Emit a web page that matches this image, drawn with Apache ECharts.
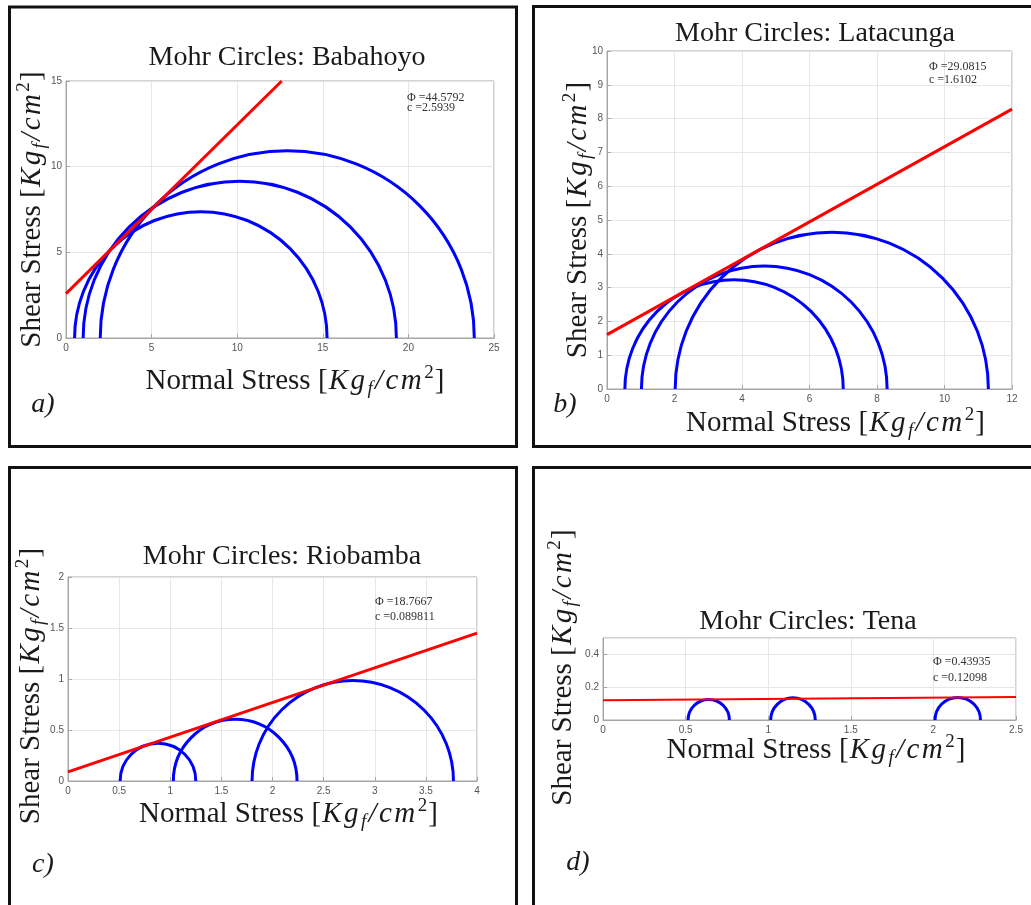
<!DOCTYPE html>
<html>
<head>
<meta charset="utf-8">
<title>Mohr Circles</title>
<script src="https://cdn.jsdelivr.net/npm/echarts@6/dist/echarts.min.js"></script>
<style>
  html, body { margin: 0; padding: 0; background: #fff; }
  #chart { width: 1031px; height: 905px; }
</style>
</head>
<body>
<div id="chart"></div>
<script>
// sigma3 / sigma1 of each triaxial test [Kg_f/cm^2]
const babahoyoSigma3 = [0.5, 1.0, 2.0];
const babahoyoSigma1 = [15.25, 19.3, 23.85];
const babahoyoEnvelope = [[0, 2.59], [12.6, 15]];

const latacungaSigma3 = [0.53, 1.02, 2.02];
const latacungaSigma1 = [7.0, 8.3, 11.3];
const latacungaEnvelope = [[0, 1.61], [12, 8.28]];

const riobambaSigma3 = [0.51, 1.03, 1.8];
const riobambaSigma1 = [1.25, 2.24, 3.77];
const riobambaEnvelope = [[0, 0.09], [4, 1.449]];

const tenaSigma3 = [0.515, 1.015, 2.01];
const tenaSigma1 = [0.765, 1.285, 2.285];
const tenaEnvelope = [[0, 0.121], [2.5, 0.14]];

const sites = ['Babahoyo', 'Latacunga', 'Riobamba', 'Tena'];
const phiValues = ['44.5792', '29.0815', '18.7667', '0.43935'];
const cohesionValues = ['2.5939', '1.6102', '0.089811', '0.12098'];
const panelLetters = ['a)', 'b)', 'c)', 'd)'];

const xMax = [25, 12, 4, 2.5];
const xStep = [5, 2, 0.5, 0.5];
const yMax = [15, 10, 2, 0.5];
const yStep = [5, 1, 0.5, 0.2];

const sigma3 = [babahoyoSigma3, latacungaSigma3, riobambaSigma3, tenaSigma3];
const sigma1 = [babahoyoSigma1, latacungaSigma1, riobambaSigma1, tenaSigma1];
const envelopes = [babahoyoEnvelope, latacungaEnvelope, riobambaEnvelope, tenaEnvelope];

// layout of the four panels (pixels)
const layout = [
  { grid: { left: 66, top: 81, width: 428, height: 257 }, box: [9.5, 7, 507, 439.5],
    title: [287, 58], letter: [43, 405], note: [407, 98, 10], xGap: 26, xPad: [0, 0, 0, 30], yGap: 17, yPad: [0, 0, 0, 0], lw: 3 },
  { grid: { left: 607, top: 51, width: 405, height: 338 }, box: [533.5, 6.5, 520, 440],
    title: [815, 34], letter: [565, 405], note: [929, 67, 13], xGap: 17, xPad: [0, 0, 0, 52], yGap: 12, yPad: [0, 0, 0, 0], lw: 3 },
  { grid: { left: 68, top: 577, width: 409, height: 204 }, box: [9.5, 467.5, 507, 460],
    title: [282, 557], letter: [43, 865], note: [375, 602, 15], xGap: 16, xPad: [0, 0, 0, 32], yGap: 20, yPad: [0, 14, 0, 0], lw: 3 },
  { grid: { left: 603, top: 638, width: 413, height: 82 }, box: [533.5, 467.5, 520, 460],
    title: [808, 622], letter: [578, 863], note: [933, 662, 16], xGap: 13, xPad: [0, 0, 0, 13], yGap: 23, yPad: [0, 0, 0, 23], lw: 2 }
];

const SERIF = '"Liberation Serif", "Times New Roman", serif';
const SANS = '"Liberation Sans", Arial, sans-serif';
const INK = '#1a1a1a';
const AXIS_GRAY = '#a6a6a6';

const mathPad = [0, 1.2, 0, 1.2];
const unitRich = {
  n: { fontFamily: SERIF, fontSize: 29, lineHeight: 34, color: INK },
  i: { fontFamily: SERIF, fontStyle: 'italic', fontSize: 29, lineHeight: 34, color: INK, padding: mathPad },
  s: { fontFamily: SERIF, fontStyle: 'italic', fontSize: 19, verticalAlign: 'bottom', color: INK, padding: mathPad },
  p: { fontFamily: SERIF, fontSize: 19, verticalAlign: 'top', color: INK, padding: mathPad }
};
const unitText = '{i|K}{i|g}{s|f}{i|/}{i|c}{i|m}{p|2}{n|]}';

// semicircle of one Mohr circle, drawn in pixel space from the axis scales
function mohrCircle(params, api) {
  const s3 = api.value(0);
  const s1 = api.value(1);
  const centre = api.coord([(s1 + s3) / 2, 0]);
  const size = api.size([(s1 - s3) / 2, (s1 - s3) / 2]);
  return {
    type: 'arc',
    x: centre[0],
    y: centre[1],
    scaleY: size[1] / size[0],
    shape: { cx: 0, cy: 0, r: size[0], startAngle: Math.PI, endAngle: 2 * Math.PI, clockwise: true },
    style: { stroke: '#0000ff', fill: 'none', lineWidth: 3, strokeNoScale: true }
  };
}

const grid = [];
const xAxis = [];
const yAxis = [];
const series = [];
const graphic = [];

layout.forEach((L, k) => {
  grid.push(Object.assign({ show: true, borderColor: AXIS_GRAY, borderWidth: 1, backgroundColor: '#fff' }, L.grid));

  const axisCommon = {
    gridIndex: k,
    type: 'value',
    min: 0,
    axisLine: { show: true, lineStyle: { color: AXIS_GRAY, width: 1 } },
    axisTick: { show: true, inside: true, length: 4, lineStyle: { color: AXIS_GRAY } },
    splitLine: { show: true, lineStyle: { color: '#e6e6e6', width: 1 } },
    nameLocation: 'middle',
    nameMoveOverlap: false
  };

  xAxis.push(Object.assign({}, axisCommon, {
    max: xMax[k],
    interval: xStep[k],
    axisLabel: { fontFamily: SANS, fontSize: 10, color: '#555', margin: 5 },
    name: '{n|Normal Stress [}' + unitText,
    nameGap: L.xGap,
    nameTextStyle: { rich: unitRich, padding: L.xPad }
  }));

  yAxis.push(Object.assign({}, axisCommon, {
    max: yMax[k],
    interval: yStep[k],
    axisLabel: { fontFamily: SANS, fontSize: 10, color: '#555', margin: 4, showMaxLabel: k !== 3 },
    name: '{n|Shear Stress [}' + unitText,
    nameGap: L.yGap,
    nameTextStyle: { rich: unitRich, padding: L.yPad }
  }));

  series.push({
    type: 'custom',
    xAxisIndex: k,
    yAxisIndex: k,
    renderItem: mohrCircle,
    data: sigma3[k].map((s3, j) => [s3, sigma1[k][j]]),
    z: 2
  });

  series.push({
    type: 'line',
    xAxisIndex: k,
    yAxisIndex: k,
    data: envelopes[k],
    symbol: 'none',
    lineStyle: { color: '#ff0000', width: L.lw },
    z: 3
  });

  graphic.push({
    type: 'rect',
    shape: { x: L.box[0], y: L.box[1], width: L.box[2], height: L.box[3] },
    style: { fill: 'none', stroke: '#111', lineWidth: 3 },
    z: 100
  });

  graphic.push({
    type: 'text',
    x: L.title[0],
    y: L.title[1],
    style: {
      text: 'Mohr Circles: ' + sites[k],
      font: '28px ' + SERIF,
      fill: INK,
      align: 'center', textAlign: 'center',
      verticalAlign: 'middle', textVerticalAlign: 'middle'
    },
    z: 100
  });

  graphic.push({
    type: 'text',
    x: L.letter[0],
    y: L.letter[1],
    style: {
      text: panelLetters[k],
      font: 'italic 28px ' + SERIF,
      fill: INK,
      align: 'center', textAlign: 'center',
      verticalAlign: 'middle', textVerticalAlign: 'middle'
    },
    z: 100
  });

  ['\u03A6 =' + phiValues[k], 'c =' + cohesionValues[k]].forEach((line, j) => {
    graphic.push({
      type: 'text',
      x: L.note[0],
      y: L.note[1] + j * L.note[2],
      style: {
        text: line,
        font: '12px ' + SERIF,
        fill: '#333',
        align: 'left', textAlign: 'left',
        verticalAlign: 'middle', textVerticalAlign: 'middle'
      },
      z: 100
    });
  });
});

const chart = echarts.init(document.getElementById('chart'), null, { renderer: 'canvas' });
chart.setOption({
  animation: false,
  backgroundColor: '#fff',
  grid: grid,
  xAxis: xAxis,
  yAxis: yAxis,
  series: series,
  graphic: graphic
});
</script>
</body>
</html>
